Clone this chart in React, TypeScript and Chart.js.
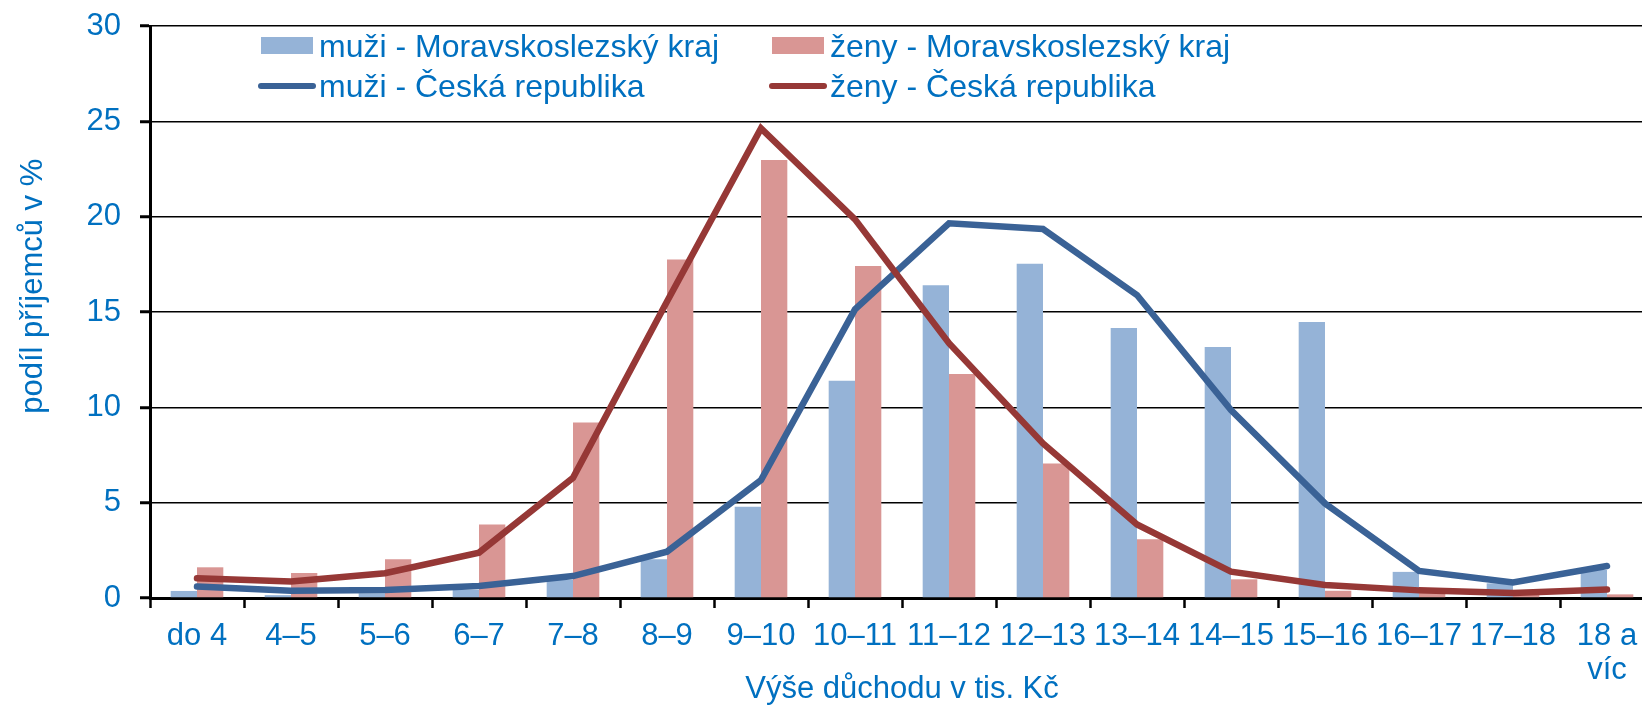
import React, { useEffect, useRef } from "react";
import { Chart, registerables } from "chart.js";

Chart.register(...registerables);

// ---- data ----
const categories: (string | string[])[] = [
  "do 4", "4–5", "5–6", "6–7", "7–8", "8–9", "9–10", "10–11", "11–12",
  "12–13", "13–14", "14–15", "15–16", "16–17", "17–18", ["18 a", "víc"],
];
const muziMSK = [0.37, 0.15, 0.25, 0.42, 0.95, 2.03, 4.79, 11.4, 16.4, 17.53, 14.16, 13.16, 14.47, 1.37, 0.77, 1.47];
const zenyMSK = [1.61, 1.31, 2.03, 3.86, 9.2, 17.76, 22.97, 17.41, 11.75, 7.06, 3.08, 0.98, 0.38, 0.3, 0.2, 0.19];
const muziCR = [0.6, 0.38, 0.42, 0.63, 1.15, 2.43, 6.19, 15.14, 19.65, 19.35, 15.89, 9.86, 4.96, 1.42, 0.82, 1.68];
const zenyCR = [1.03, 0.86, 1.3, 2.38, 6.3, 15.55, 24.63, 19.86, 13.36, 8.11, 3.86, 1.38, 0.68, 0.4, 0.26, 0.44];

const seriesLabels = [
  "muži - Moravskoslezský kraj",
  "ženy - Moravskoslezský kraj",
  "muži - Česká republika",
  "ženy - Česká republika",
];
const yMin = 0;
const yMax = 30;
const yStep = 5;
const xTitle = "Výše důchodu v tis. Kč";
const yTitle = "podíl příjemců v %";

// ---- styles ----
const TEXT = "#0070C0";
const FONT = "'Liberation Sans', Arial, Helvetica, sans-serif";
const C_BLUE_BAR = "#95B3D7";
const C_PINK_BAR = "#D99694";
const C_BLUE_LINE = "#3A6296";
const C_RED_LINE = "#963836";

export default function App() {
  const ref = useRef<HTMLCanvasElement>(null);

  useEffect(() => {
    const canvas = ref.current;
    if (!canvas) return;

    const overlay = {
      id: "overlay",
      afterDraw(chart: any) {
        const ctx: CanvasRenderingContext2D = chart.ctx;
        const area = chart.chartArea;
        // y-axis title
        ctx.save();
        ctx.fillStyle = TEXT;
        ctx.font = `31px ${FONT}`;
        ctx.translate(42, area.top + (area.bottom - area.top) * 0.455);
        ctx.rotate(-Math.PI / 2);
        ctx.textAlign = "center";
        ctx.textBaseline = "alphabetic";
        ctx.fillText(yTitle, 0, 0);
        ctx.restore();

        // legend (2 x 2, inside plot)
        const ds = chart.data.datasets;
        const cols = [area.left + 111, area.left + 622];
        const rows = [area.top + 31, area.top + 71];
        ctx.save();
        ctx.font = `32px ${FONT}`;
        ctx.textBaseline = "alphabetic";
        ctx.textAlign = "left";
        ds.forEach((d: any, i: number) => {
          const col = cols[i % 2];
          const base = rows[Math.floor(i / 2)];
          if (d.type === "bar") {
            ctx.fillStyle = d.backgroundColor;
            ctx.fillRect(col, base - 20, 52, 17);
          } else {
            ctx.strokeStyle = d.borderColor;
            ctx.lineWidth = 6;
            ctx.lineCap = "round";
            ctx.beginPath();
            ctx.moveTo(col, base - 11);
            ctx.lineTo(col + 52, base - 11);
            ctx.stroke();
          }
          ctx.fillStyle = TEXT;
          ctx.fillText(d.label, col + 58, base);
        });
        ctx.restore();
      },
    };

    const chart = new Chart(canvas, {
      type: "bar",
      data: {
        labels: categories,
        datasets: [
          {
            type: "bar",
            label: seriesLabels[0],
            data: muziMSK,
            backgroundColor: C_BLUE_BAR,
            barPercentage: 1,
            categoryPercentage: 0.56,
            order: 3,
          },
          {
            type: "bar",
            label: seriesLabels[1],
            data: zenyMSK,
            backgroundColor: C_PINK_BAR,
            barPercentage: 1,
            categoryPercentage: 0.56,
            order: 3,
          },
          {
            type: "line",
            label: seriesLabels[2],
            data: muziCR,
            borderColor: C_BLUE_LINE,
            backgroundColor: C_BLUE_LINE,
            borderWidth: 6.5,
            pointRadius: 0,
            tension: 0,
            borderCapStyle: "round",
            borderJoinStyle: "miter",
            order: 2,
          },
          {
            type: "line",
            label: seriesLabels[3],
            data: zenyCR,
            borderColor: C_RED_LINE,
            backgroundColor: C_RED_LINE,
            borderWidth: 6.5,
            pointRadius: 0,
            tension: 0,
            borderCapStyle: "round",
            borderJoinStyle: "miter",
            order: 1,
          },
        ] as any,
      },
      options: {
        responsive: false,
        animation: false,
        devicePixelRatio: 1,
        layout: { padding: { top: 26, left: 0, right: 4, bottom: 0 } },
        plugins: {
          legend: { display: false },
          tooltip: { enabled: false },
        },
        scales: {
          x: {
            offset: true,
            grid: {
              display: true,
              offset: true,
              drawOnChartArea: false,
              drawTicks: true,
              tickLength: 10,
              tickWidth: 2.5,
              tickColor: "#000",
            },
            border: { display: true, color: "#000", width: 3 },
            ticks: {
              color: TEXT,
              font: { family: FONT, size: 31, lineHeight: 1.1 },
              padding: 11,
              autoSkip: false,
              maxRotation: 0,
              minRotation: 0,
            },
            title: {
              display: true,
              text: xTitle,
              color: TEXT,
              font: { family: FONT, size: 31, lineHeight: 1.0 },
              padding: { top: 0, bottom: 0 },
            },
            afterFit(scale: any) {
              scale.height = 107;
              scale.paddingLeft = 0;
              scale.paddingRight = 0;
            },
          },
          y: {
            min: yMin,
            max: yMax,
            ticks: {
              stepSize: yStep,
              color: TEXT,
              font: { family: FONT, size: 31 },
              padding: 19,
            },
            grid: {
              color: "#000",
              lineWidth: 1.5,
              drawTicks: true,
              tickLength: 10,
              tickWidth: 3,
              tickColor: "#000",
            },
            border: { display: true, color: "#000", width: 3 },
            afterFit(scale: any) {
              scale.width = 150;
              scale.paddingTop = 0;
              scale.paddingBottom = 0;
            },
          },
        },
      },
      plugins: [overlay],
    } as any);

    return () => chart.destroy();
  }, []);

  return (
    <div
      style={{
        position: "fixed",
        left: 0,
        top: 0,
        width: "100vw",
        height: "100vh",
        overflow: "hidden",
        background: "#fff",
      }}
    >
      <canvas ref={ref} width={1658} height={705} style={{ display: "block" }} />
    </div>
  );
}
